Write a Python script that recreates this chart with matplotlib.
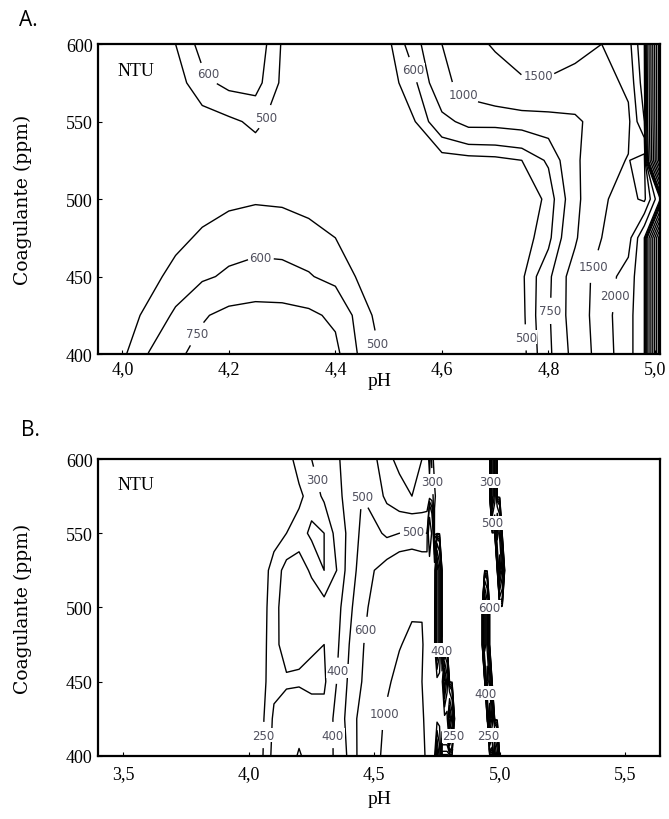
import numpy as np
import matplotlib
matplotlib.use("Agg")
import matplotlib.pyplot as plt
from matplotlib.ticker import FuncFormatter

# coagulant dose rows (ppm), shared by both maps
coag = [400, 425, 450, 475, 500, 525, 550, 575, 600]

# map A: NTU values on a pH x coagulant grid
ph_a = [3.95, 4.00, 4.05, 4.10, 4.15, 4.20, 4.25, 4.30, 4.35, 4.40, 4.45, 4.50,
        4.55, 4.60, 4.65, 4.70, 4.75, 4.80, 4.85, 4.90, 4.95, 4.98, 5.01]
ntu_a = [
    [420, 480, 605, 720, 800, 860, 890, 880, 840, 790, 560, 470, 440, 440, 440, 440, 460, 700, 1100, 1750, 2300, 3000, 20000],
    [400, 460, 520, 620, 735, 790, 810, 805, 780, 720, 530, 450, 440, 440, 440, 450, 470, 720, 1150, 1800, 2300, 3000, 20000],
    [380, 420, 470, 530, 580, 620, 640, 635, 610, 560, 480, 440, 440, 440, 440, 450, 480, 700, 1150, 1750, 2200, 3000, 20000],
    [360, 390, 430, 475, 515, 545, 560, 555, 530, 500, 455, 440, 440, 440, 440, 445, 450, 560, 950, 1500, 1800, 3000, 20000],
    [340, 370, 400, 430, 460, 480, 490, 485, 470, 455, 440, 435, 435, 440, 440, 440, 440, 520, 880, 1450, 1650, 1400, 3000],
    [330, 350, 380, 400, 420, 440, 450, 450, 445, 440, 435, 430, 440, 450, 460, 470, 500, 620, 920, 1350, 1520, 1300, 20000],
    [330, 350, 380, 410, 450, 480, 520, 460, 440, 430, 430, 440, 500, 700, 800, 800, 820, 850, 920, 1200, 1400, 2500, 20000],
    [340, 360, 400, 450, 570, 630, 640, 480, 440, 430, 430, 450, 580, 900, 1150, 1300, 1450, 1450, 1350, 1300, 1600, 2800, 20000],
    [350, 380, 420, 500, 640, 690, 680, 490, 450, 440, 440, 480, 680, 1000, 1350, 1550, 1700, 1750, 1650, 1500, 1800, 3000, 20000],
]
levels_a = [500, 600, 750, 1000, 1500, 2000, 2500, 3000, 4000, 5000, 6000,
            8000, 10000, 12000, 14000, 16000, 18000]
# (level, pH, ppm) of each printed label
labels_a = [(600, 4.18, 586), (500, 4.26, 554), (600, 4.26, 463), (750, 4.14, 413),
            (500, 4.48, 407), (600, 4.55, 584), (1000, 4.63, 564), (1500, 4.78, 576),
            (1500, 4.89, 456), (2000, 4.92, 438), (750, 4.79, 428), (500, 4.78, 411)]

# map B, left part (pH 3.40 - 4.69)
ph_b_left = [3.40, 4.00, 4.05, 4.10, 4.15, 4.20, 4.25, 4.30, 4.35, 4.40, 4.45,
             4.50, 4.55, 4.60, 4.65, 4.69]
ntu_b_left = [
    [200, 200, 240, 320, 350, 410, 360, 350, 420, 520, 650, 900, 1100, 1250, 1250, 1150],
    [200, 200, 235, 310, 340, 360, 340, 330, 430, 540, 640, 880, 1050, 1200, 1200, 1100],
    [200, 200, 230, 285, 290, 290, 280, 285, 400, 520, 600, 750, 950, 1100, 1100, 1000],
    [200, 200, 230, 280, 330, 320, 310, 300, 380, 500, 580, 700, 850, 980, 1080, 1030],
    [200, 200, 230, 275, 340, 350, 340, 320, 360, 480, 560, 640, 720, 850, 950, 980],
    [200, 200, 225, 270, 320, 330, 290, 250, 300, 450, 540, 600, 650, 700, 720, 700],
    [200, 200, 210, 230, 250, 270, 240, 250, 320, 430, 520, 530, 480, 500, 510, 500],
    [200, 200, 200, 205, 215, 240, 270, 310, 370, 440, 500, 450, 380, 330, 300, 320],
    [200, 200, 200, 200, 230, 270, 300, 330, 380, 460, 500, 420, 320, 280, 280, 300],
]
# right part: two narrow ridges (the black bands) per coagulant row
ph_b_right = [4.71, 4.72, 4.73, 4.74, 4.75, 4.76, 4.77, 4.78, 4.79, 4.80, 4.81,
              4.82, 4.83, 4.89, 4.92, 4.93, 4.94, 4.95, 4.96, 4.97, 4.98, 4.99,
              5.00, 5.01, 5.02, 5.03, 5.10, 5.64]
ridge1_ph = [4.75, 4.80, 4.78, 4.75, 4.75, 4.75, 4.72, 4.74, 4.72]
ridge1_top = [3000, 3000, 3000, 3000, 3000, 3000, 1500, 260, 450]
ridge1_fill = [900, 800, 750, 880, 850, 700, 500, 330, 300]
ridge2_ph = [4.98, 4.96, 4.95, 4.94, 4.94, 5.00, 4.99, 4.97, 4.97]
ridge2_top = 3000
ridge_shoulder = 0.6   # second ridge column, as a share of the crest
between_ntu = 230
outside_ntu = 200

ph_b = ph_b_left + ph_b_right
ntu_b = []
for i in range(len(coag)):
    row = list(ntu_b_left[i])
    for p in ph_b_right:
        if abs(p - ridge1_ph[i]) < 1e-6:
            row.append(ridge1_top[i])
        elif abs(p - ridge1_ph[i] - 0.01) < 1e-6:
            row.append(max(ridge1_top[i] * ridge_shoulder, between_ntu))
        elif p < ridge1_ph[i]:
            row.append(ridge1_fill[i])
        elif abs(p - ridge2_ph[i]) < 1e-6:
            row.append(ridge2_top)
        elif abs(p - ridge2_ph[i] - 0.01) < 1e-6:
            row.append(ridge2_top * ridge_shoulder)
        elif p < ridge2_ph[i]:
            row.append(between_ntu)
        else:
            row.append(outside_ntu)
    ntu_b.append(row)

levels_b = [250, 300, 400, 500, 600, 1000, 1500, 2000, 2500]
labels_b = [(300, 4.24, 585), (500, 4.44, 585), (300, 4.72, 585), (300, 4.94, 585),
            (500, 4.66, 557), (500, 4.96, 557), (600, 4.46, 485), (600, 4.96, 500),
            (400, 4.75, 471), (400, 4.39, 457), (400, 4.92, 442), (1000, 4.53, 429),
            (250, 4.07, 414), (400, 4.27, 414), (250, 4.77, 414), (250, 4.96, 414)]

SERIF = "Liberation Serif"


def comma(v, pos):
    return f"{v:.1f}".replace(".", ",")


def draw(ax, ph, ntu, levels, labels, xlim, xticks, xpad):
    ax.set_xlim(*xlim)
    ax.set_ylim(400, 600)
    z = np.array(ntu, dtype=float)
    # one contour set per level so each label can be put on its own line
    sets = {}
    for lev in levels:
        sets[lev] = ax.contour(ph, coag, z, levels=[lev], colors="black",
                               linewidths=1.0)
    ax.set_xlim(*xlim)
    ax.set_ylim(400, 600)
    for lev in sets:
        pts = [(x, y) for l, x, y in labels if l == lev]
        if not pts or len(sets[lev].allsegs[0]) == 0:
            continue
        texts = sets[lev].clabel(manual=pts, inline=True, inline_spacing=2,
                                 fmt="%d", fontsize=8.5, colors="#50505e",
                                 zorder=6)
        for t in texts:
            t.set_fontfamily("DejaVu Sans")
            t.set_rotation(0)
            t.set_bbox(dict(facecolor="white", edgecolor="none", pad=0.3))
    ax.set_xticks(xticks)
    ax.set_yticks([400, 450, 500, 550, 600])
    ax.xaxis.set_major_formatter(FuncFormatter(comma))
    ax.tick_params(direction="in", length=3, labelsize=13, pad=xpad)
    ax.tick_params(axis="y", pad=4)
    for lab in ax.get_xticklabels() + ax.get_yticklabels():
        lab.set_fontfamily(SERIF)
    for sp in ax.spines.values():
        sp.set_linewidth(1.6)
    ax.set_ylabel("Coagulante (ppm)", fontfamily="DejaVu Serif", fontsize=13.5)
    ax.yaxis.set_label_coords(-0.118, 0.5)
    ax.text(0.035, 0.915, "NTU", transform=ax.transAxes, fontfamily=SERIF,
            fontsize=13, va="center", ha="left")


fig = plt.figure(figsize=(6.69, 8.2), dpi=100)
ax_a = fig.add_axes([0.147, 0.567, 0.840, 0.378])
ax_b = fig.add_axes([0.147, 0.077, 0.840, 0.362])

draw(ax_a, ph_a, ntu_a, levels_a, labels_a, (3.955, 5.01),
     [4.0, 4.2, 4.4, 4.6, 4.8, 5.0], 4)
draw(ax_b, ph_b, ntu_b, levels_b, labels_b, (3.40, 5.64),
     [3.5, 4.0, 4.5, 5.0, 5.5], 7)
ax_a.set_xlabel("pH", fontfamily=SERIF, fontsize=14, labelpad=-3)
ax_b.set_xlabel("pH", fontfamily=SERIF, fontsize=14, labelpad=5)

fig.text(0.028, 0.975, "A.", fontfamily="Open Sans", fontsize=15, va="center")
fig.text(0.032, 0.475, "B.", fontfamily="Open Sans", fontsize=15, va="center")

fig.savefig("out.png", dpi=100, facecolor="white")
